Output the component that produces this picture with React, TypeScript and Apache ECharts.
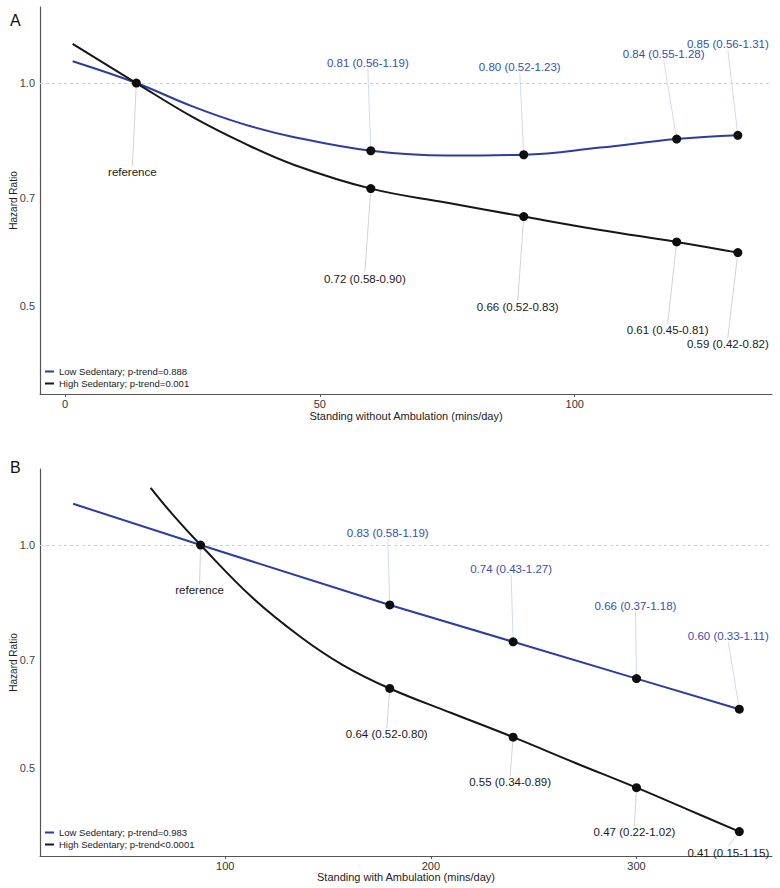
import React, { useEffect, useRef } from "react";
import * as echarts from "echarts";

// ---------- Panel A: Standing without Ambulation ----------
const aLowName = "Low Sedentary; p-trend=0.888";
const aHighName = "High Sedentary; p-trend=0.001";
const aLowCurve: [number, number][] = [
  [1.5, 1.07], [14, 1.0], [25, 0.93], [35, 0.88], [45, 0.845], [60, 0.81],
  [75, 0.798], [90, 0.8], [105, 0.818], [120, 0.84], [132, 0.85],
];
const aHighCurve: [number, number][] = [
  [1.5, 1.13], [14, 1.0], [25, 0.9], [35, 0.83], [45, 0.775], [60, 0.72],
  [75, 0.689], [90, 0.66], [105, 0.633], [120, 0.61], [132, 0.59],
];
const aRefX = 14;
const aPointX = [60, 90, 120, 132];
const aLowHR = [0.81, 0.8, 0.84, 0.85];
const aLowCI = ["0.56-1.19", "0.52-1.23", "0.55-1.28", "0.56-1.31"];
const aHighHR = [0.72, 0.66, 0.61, 0.59];
const aHighCI = ["0.58-0.90", "0.52-0.83", "0.45-0.81", "0.42-0.82"];
const aXTicks = [0, 50, 100];

// ---------- Panel B: Standing with Ambulation ----------
const bLowName = "Low Sedentary; p-trend=0.983";
const bHighName = "High Sedentary; p-trend<0.0001";
const bLowCurve: [number, number][] = [
  [26, 1.137], [88, 1.0], [180, 0.83], [240, 0.74], [300, 0.66], [350, 0.6],
];
const bHighCurve: [number, number][] = [
  [63.7, 1.195], [75, 1.095], [88, 1.0], [113, 0.85], [137, 0.75], [157, 0.689],
  [180, 0.64], [210, 0.593], [240, 0.55], [270, 0.508], [300, 0.47], [325, 0.439], [350, 0.41],
];
const bRefX = 88;
const bPointX = [180, 240, 300, 350];
const bLowHR = [0.83, 0.74, 0.66, 0.6];
const bLowCI = ["0.58-1.19", "0.43-1.27", "0.37-1.18", "0.33-1.11"];
const bHighHR = [0.64, 0.55, 0.47, 0.41];
const bHighCI = ["0.52-0.80", "0.34-0.89", "0.22-1.02", "0.15-1.15"];
const bXTicks = [100, 200, 300];

const yTicks = [0.5, 0.7, 1.0];

// label offsets (style only, in pixels)
const aLowOff = [[-3, -88], [-4, -88], [-13, -85], [-10, -91]];
const aHighOff = [[-6, 90], [-6, 90], [-9, 88], [-10, 91]];
const aRefOff = [[-4, 89]];
const bLowOff = [[-2, -72], [-2, -73], [-1, -73], [-11, -73]];
const bHighOff = [[-3, 46], [-3, 45], [-2, 44], [-11, 21]];
const bRefOff = [[-1, 45]];

const FONT = "'Liberation Sans', Arial, Helvetica, sans-serif";
const BLUE = "#2c3d9f";
const BLUE_TEXT = "#3550b0";
const BLACK = "#161616";

function pointSeries(
  name: string, xs: number[], hrs: number[], texts: string[], offs: number[][],
  xi: number, textColor: string, lineColor: string
) {
  return {
    name, type: "scatter", xAxisIndex: xi, yAxisIndex: xi,
    symbol: "circle", symbolSize: 9, z: 5,
    itemStyle: { color: "#0d0d0d", opacity: 1 },
    data: xs.map((x, i) => [x, hrs[i]]),
    label: {
      show: true, position: "inside", fontSize: 11.5, fontFamily: FONT, color: textColor,
      formatter: (p: any) => texts[p.dataIndex],
    },
    labelLayout: (p: any) => ({ dx: offs[p.dataIndex][0], dy: offs[p.dataIndex][1] }),
    labelLine: { show: true, lineStyle: { color: lineColor, width: 0.8, opacity: 1 } },
    emphasis: { disabled: true },
  };
}

function lineSeries(name: string, data: [number, number][], xi: number, color: string, smooth: number | boolean, withMarks: boolean) {
  const s: any = {
    name, type: "line", xAxisIndex: xi, yAxisIndex: xi, data, smooth,
    symbol: "none", lineStyle: { color, width: 2 }, itemStyle: { color }, z: 3,
    emphasis: { disabled: true },
  };
  if (withMarks) {
    s.markLine = {
      silent: true, symbol: "none",
      label: {
        show: true, position: "start", distance: 5, fontSize: 11, fontFamily: FONT, color: "#444",
        formatter: (p: any) => Number(p.value).toFixed(1),
      },
      data: yTicks.map((v) => ({
        yAxis: v,
        lineStyle: v === 1
          ? { color: "#cfcfcf", type: [3, 3], width: 1 }
          : { color: "rgba(0,0,0,0)", width: 1 },
      })),
    };
  }
  return s;
}

function xAxis(gi: number, min: number, max: number, ticks: number[], name: string, gap: number) {
  return {
    type: "value", gridIndex: gi, min, max, name, nameLocation: "middle", nameGap: gap,
    nameTextStyle: { fontSize: 11, fontFamily: FONT, color: "#222" },
    axisLine: { show: true, onZero: false, lineStyle: { color: "#555", width: 1.2 } },
    axisTick: { show: true, customValues: ticks, length: 3, lineStyle: { color: "#555" } },
    axisLabel: { customValues: ticks, fontSize: 11, fontFamily: FONT, color: "#333", margin: 4 },
    splitLine: { show: false },
  };
}

function yAxis(gi: number) {
  return {
    type: "log", gridIndex: gi, min: 0.38, max: 1.267, logBase: 10,
    name: "Hazard Ratio", nameLocation: "middle", nameGap: 22,
    nameTextStyle: { fontSize: 10, fontFamily: FONT, color: "#222" },
    axisLine: { show: true, onZero: false, lineStyle: { color: "#555", width: 1.2 } },
    axisTick: { show: false }, axisLabel: { show: false }, splitLine: { show: false },
  };
}

export default function App() {
  const ref = useRef<HTMLDivElement>(null);
  useEffect(() => {
    document.body.style.margin = "0";
    const chart = echarts.init(ref.current!, null, { renderer: "svg" });
    const fmt = (hrs: number[], ci: string[]) => hrs.map((h, i) => `${h.toFixed(2)} (${ci[i]})`);
    chart.setOption({
      animation: false,
      backgroundColor: "#fff",
      textStyle: { fontFamily: FONT },
      title: [
        { text: "A", left: 10, top: 12, padding: 0, textStyle: { fontSize: 16, fontWeight: "normal", color: "#111", fontFamily: FONT } },
        { text: "B", left: 10, top: 459, padding: 0, textStyle: { fontSize: 16, fontWeight: "normal", color: "#111", fontFamily: FONT } },
      ],
      grid: [
        { left: 37, right: 8, top: 7, bottom: 494 },
        { left: 37, right: 8, top: 469, bottom: 32 },
      ],
      xAxis: [
        xAxis(0, -4.9, 138.7, aXTicks, "Standing without Ambulation (mins/day)", 16),
        xAxis(1, 9.9, 365.9, bXTicks, "Standing with Ambulation (mins/day)", 15),
      ],
      yAxis: [yAxis(0), yAxis(1)],
      legend: [
        {
          data: [aLowName, aHighName], left: 44, top: 365, orient: "vertical", icon: "rect",
          itemWidth: 9, itemHeight: 2, itemGap: 1, padding: 1,
          textStyle: { fontSize: 9.5, color: "#222", fontFamily: FONT, lineHeight: 11 },
        },
        {
          data: [bLowName, bHighName], left: 44, top: 826, orient: "vertical", icon: "rect",
          itemWidth: 9, itemHeight: 2, itemGap: 1, padding: 1,
          textStyle: { fontSize: 9.5, color: "#222", fontFamily: FONT, lineHeight: 11 },
        },
      ],
      series: [
        lineSeries(aLowName, aLowCurve, 0, BLUE, 0.4, false),
        lineSeries(aHighName, aHighCurve, 0, BLACK, 0.4, true),
        pointSeries("A low points", aPointX, aLowHR, fmt(aLowHR, aLowCI), aLowOff, 0, BLUE_TEXT, "#c6d1ee"),
        pointSeries("A high points", aPointX, aHighHR, fmt(aHighHR, aHighCI), aHighOff, 0, "#1a1a1a", "#c8c8c8"),
        pointSeries("A reference", [aRefX], [1.0], ["reference"], aRefOff, 0, "#1a1a1a", "#c8c8c8"),
        lineSeries(bLowName, bLowCurve, 1, BLUE, false, false),
        lineSeries(bHighName, bHighCurve, 1, BLACK, 0.4, true),
        pointSeries("B low points", bPointX, bLowHR, fmt(bLowHR, bLowCI), bLowOff, 1, BLUE_TEXT, "#c6d1ee"),
        pointSeries("B high points", bPointX, bHighHR, fmt(bHighHR, bHighCI), bHighOff, 1, "#1a1a1a", "#c8c8c8"),
        pointSeries("B reference", [bRefX], [1.0], ["reference"], bRefOff, 1, "#1a1a1a", "#c8c8c8"),
      ],
    });
    return () => chart.dispose();
  }, []);
  return <div ref={ref} style={{ width: 780, height: 888 }} />;
}
